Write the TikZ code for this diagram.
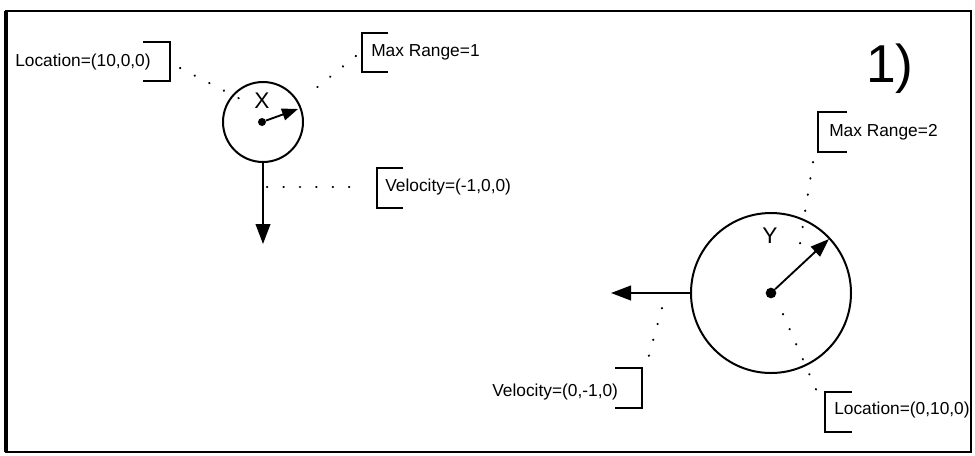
\documentclass[tikz,border=0pt]{standalone}
\usepackage{fontspec}
\setmainfont{Liberation Sans}
\usetikzlibrary{arrows.meta}
\begin{document}
\begin{tikzpicture}[x=0.75pt,y=-0.75pt,
  lbl/.style={anchor=west,inner sep=0pt,font=\fontsize{13}{15}\selectfont},
  body/.style={circle,draw,line width=1.5pt,inner sep=0pt},
  ctr/.style={circle,fill,inner sep=0pt},
  vec/.style={line width=1.4pt,-{Triangle[length=15pt,width=11pt]}},
  leader/.style={line width=1.6pt,line cap=round,dash pattern=on 0.3pt off 12pt},
  brk/.style={line width=1.2pt}]
\useasboundingbox (0,0) rectangle (975,455);
% frame
\draw[line width=1.8pt] (6,11) rectangle (971,452);
\draw[line width=2.6pt] (6,11) -- (6,452);
% object X
\node[body,minimum size=60pt] (X) at (263,122) {};
\node[ctr,minimum size=6pt] (Xc) at (262,122) {};
\coordinate (Xr) at (298,109);
\draw[line width=1.4pt,-{Triangle[length=12pt,width=9pt]}] (Xc) -- (Xr);
\node[font=\fontsize{17}{19}\selectfont,inner sep=0pt] (Xl) at (262,101) {X};
\coordinate (Xv) at (263,244);
\draw[vec] (X.south) -- (Xv);
% object Y
\node[body,minimum size=120pt] (Y) at (771,293) {};
\node[ctr,minimum size=8pt] (Yc) at (771,293) {};
\coordinate (Yr) at (829,239);
\draw[line width=1.4pt,-{Triangle[length=14pt,width=10pt]}] (Yc) -- (Yr);
\node[font=\fontsize{17}{19}\selectfont,inner sep=0pt] (Yl) at (770,236) {Y};
\coordinate (Yv) at (611,293);
\draw[vec] (Y.west) -- (Yv);
% labels
\node[lbl] (locX) at (15,62) {Location=(10,0,0)};
\node[lbl] (mrX) at (371,52) {Max Range=1};
\node[lbl] (velX) at (385,187) {Velocity=(-1,0,0)};
\node[lbl] (mrY) at (829,132) {Max Range=2};
\node[lbl] (velY) at (492,392) {Velocity=(0,-1,0)};
\node[lbl] (locY) at (834,410) {Location=(0,10,0)};
\node[anchor=base west,inner sep=0pt,font=\fontsize{40}{44}\selectfont] (num) at (866,82) {1)};
% brackets
\draw[brk] (143,42) -- (170,42) -- (170,81) -- (143,81);
\draw[brk] (388,33) -- (362,33) -- (362,72) -- (388,72);
\draw[brk] (403,168) -- (377,168) -- (377,208) -- (403,208);
\draw[brk] (847,112) -- (818,112) -- (818,152) -- (847,152);
\draw[brk] (615,368) -- (642,368) -- (642,408) -- (615,408);
\draw[brk] (852,392) -- (825,392) -- (825,432) -- (852,432);
% leader lines
\coordinate (a1) at (180,68); \coordinate (a2) at (246,102);
\draw[leader] (a1) -- (a2);
\coordinate (b1) at (356,56); \coordinate (b2) at (305,97);
\draw[leader] (b1) -- (b2);
\coordinate (c1) at (267,187); \coordinate (c2) at (365,187);
\draw[leader] (c1) -- (c2);
\coordinate (d1) at (813,162); \coordinate (d2) at (799,250);
\draw[leader] (d1) -- (d2);
\coordinate (e1) at (662,308); \coordinate (e2) at (645,370);
\draw[leader] (e1) -- (e2);
\coordinate (f1) at (783,314); \coordinate (f2) at (822,403);
\draw[leader] (f1) -- (f2);
\end{tikzpicture}
\end{document}
